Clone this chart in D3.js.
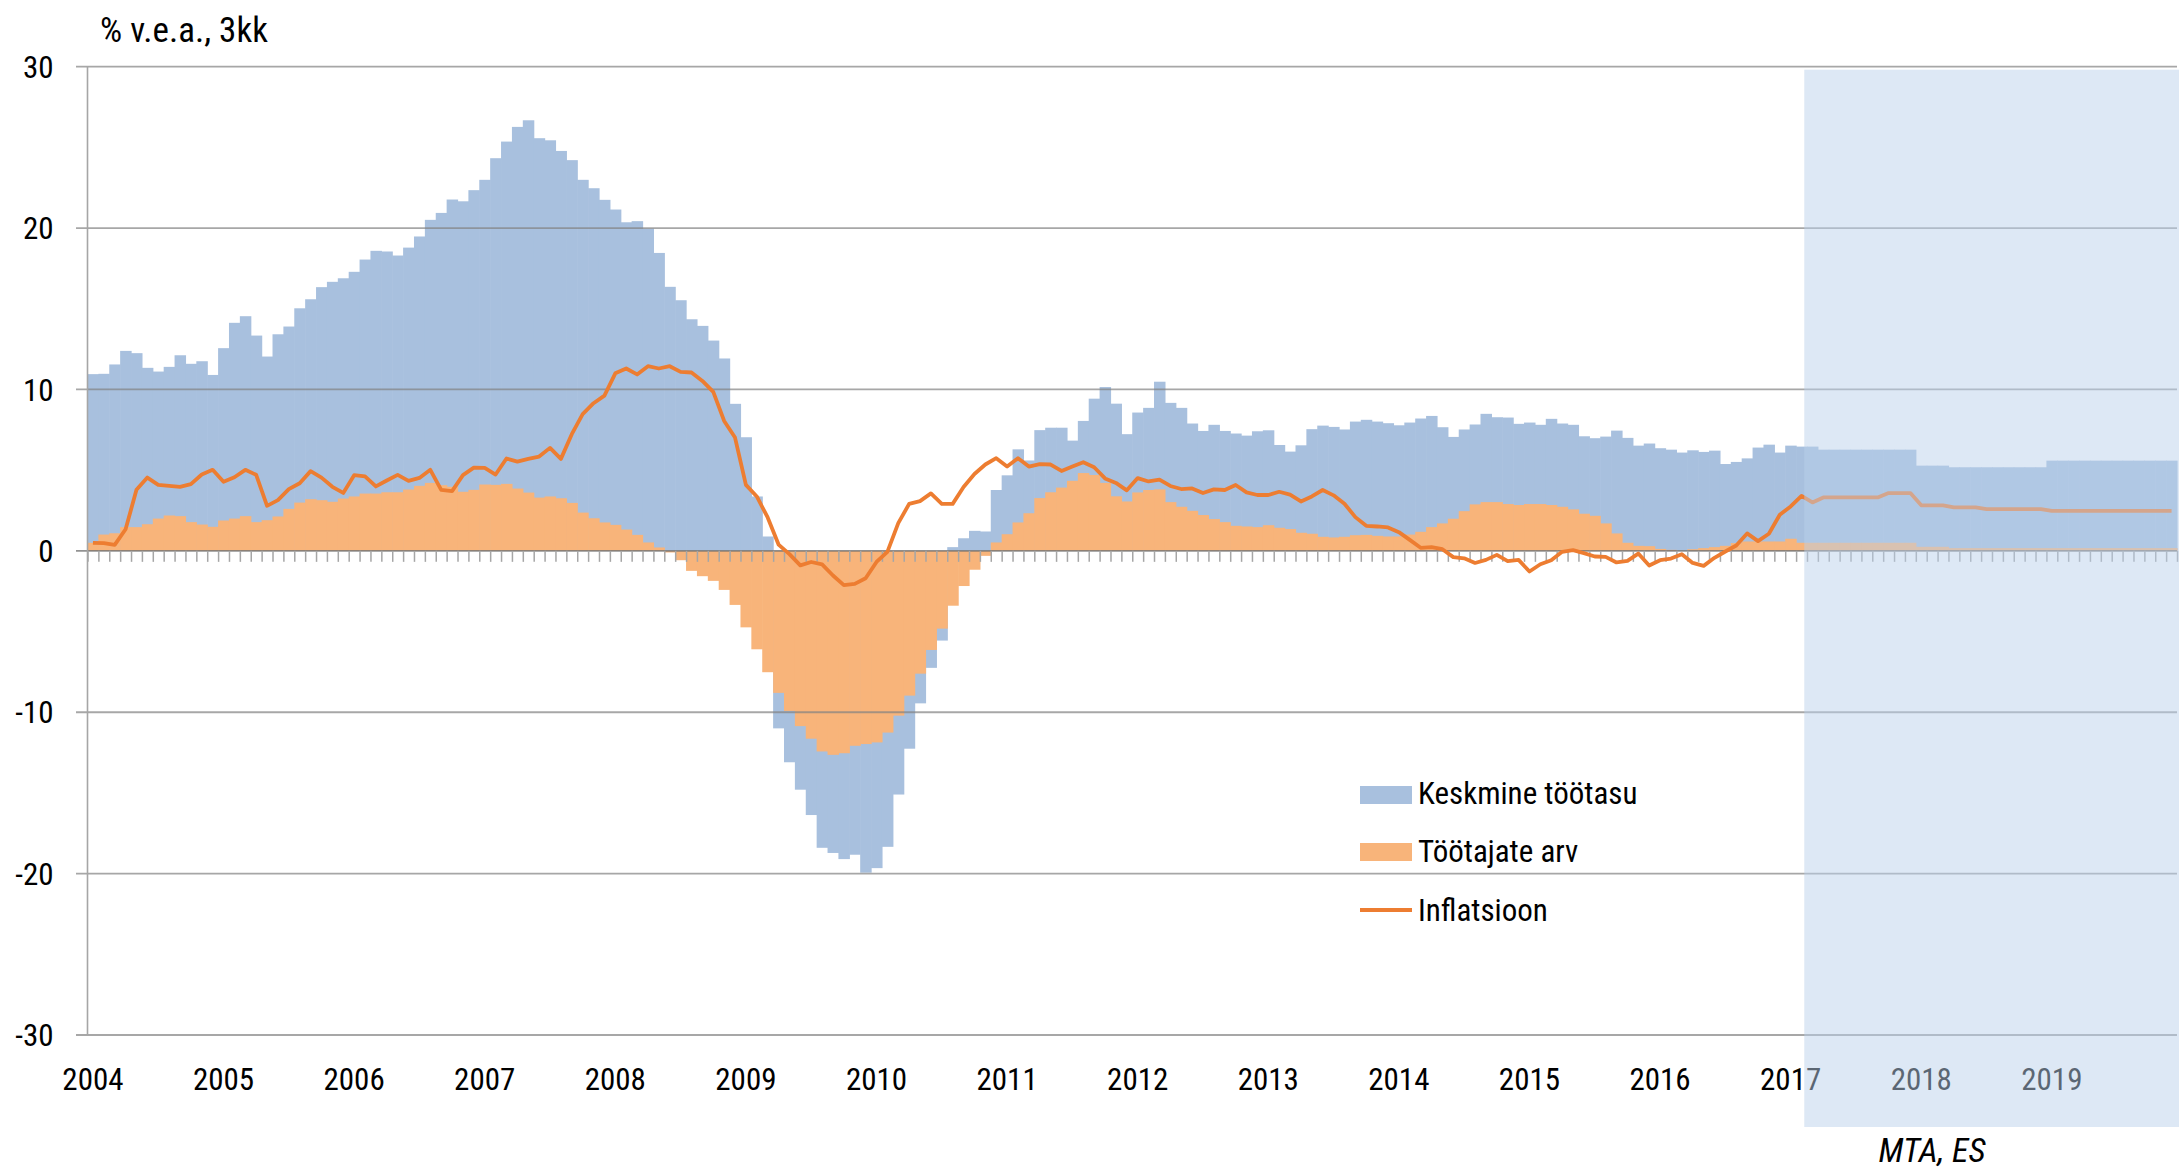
<!DOCTYPE html>
<meta charset="utf-8">

<!-- Load d3.js -->
<script src="https://d3js.org/d3.v7.min.js"></script>

<style>
  body { margin: 0; background: #fff; }
  text {
    font-family: "Roboto Condensed", "Liberation Sans Narrow", "Arial Narrow", "DejaVu Sans Condensed", Roboto, sans-serif;
    font-stretch: condensed;
    fill: #000;
  }
</style>

<!-- Create a div where the graph will take place -->
<div id="chart"></div>

<script>

// year labels (one per 12 months, Jan 2004 .. Dec 2019)
var years = ["2004","2005","2006","2007","2008","2009","2010","2011","2012","2013","2014","2015","2016","2017","2018","2019"];

// Keskmine töötasu, % (monthly, 3-month yoy)
var wage = [
  10.95, 10.97, 11.55, 12.39, 12.25, 11.34, 11.11, 11.4, 12.12, 11.59, 11.75, 10.9,
  12.56, 14.13, 14.54, 13.34, 12.04, 13.42, 13.9, 15.03, 15.59, 16.34, 16.67, 16.89,
  17.29, 18.05, 18.59, 18.55, 18.3, 18.79, 19.48, 20.51, 20.94, 21.77, 21.66, 22.35,
  22.99, 24.33, 25.36, 26.27, 26.68, 25.57, 25.44, 24.78, 24.21, 22.99, 22.47, 21.75,
  21.15, 20.36, 20.43, 19.97, 18.46, 16.36, 15.53, 14.35, 13.94, 13.03, 11.92, 9.11,
  7.04, 3.37, 0.89, -11.0, -13.1, -14.8, -16.37, -18.4, -18.72, -19.1, -18.83, -19.94,
  -19.66, -18.34, -15.1, -12.26, -9.45, -7.25, -5.56, 0.23, 0.78, 1.24, 1.2, 3.77,
  4.68, 6.29, 5.6, 7.48, 7.63, 7.63, 6.83, 8.05, 9.43, 10.15, 9.12, 7.23,
  8.57, 8.86, 10.48, 9.17, 8.86, 7.89, 7.43, 7.81, 7.43, 7.27, 7.14, 7.41,
  7.47, 6.56, 6.15, 6.54, 7.54, 7.76, 7.68, 7.52, 8.01, 8.12, 8.01, 7.91,
  7.78, 7.95, 8.2, 8.36, 7.66, 7.06, 7.52, 7.83, 8.49, 8.28, 8.26, 7.87,
  7.95, 7.81, 8.18, 7.89, 7.81, 7.1, 6.98, 7.08, 7.45, 7.0, 6.52, 6.65,
  6.36, 6.27, 6.09, 6.23, 6.13, 6.21, 5.38, 5.51, 5.73, 6.4, 6.58, 6.09,
  6.52, 6.46, 6.46, 6.27, 6.27, 6.27, 6.27, 6.27, 6.27, 6.27, 6.27, 6.27,
  5.28, 5.28, 5.28, 5.18, 5.18, 5.18, 5.18, 5.18, 5.18, 5.18, 5.18, 5.18,
  5.59, 5.59, 5.59, 5.59, 5.59, 5.59, 5.59, 5.59, 5.59, 5.59, 5.59, 5.59
];

// Töötajate arv, %
var employees = [
  0.5, 1.01, 1.09, 1.47, 1.47, 1.65, 2.0, 2.19, 2.15, 1.78, 1.63, 1.49,
  1.88, 2.0, 2.15, 1.78, 1.9, 2.13, 2.6, 2.99, 3.2, 3.14, 3.04, 3.24,
  3.37, 3.55, 3.55, 3.63, 3.63, 3.8, 4.03, 4.21, 4.07, 3.97, 3.66, 3.78,
  4.11, 4.09, 4.15, 3.86, 3.61, 3.3, 3.37, 3.26, 2.97, 2.37, 2.02, 1.76,
  1.61, 1.32, 0.99, 0.52, 0.21, -0.1, -0.58, -1.24, -1.57, -1.86, -2.42, -3.35,
  -4.74, -6.1, -7.52, -8.8, -9.92, -10.86, -11.64, -12.43, -12.64, -12.54, -12.08, -11.97,
  -11.87, -11.26, -10.21, -8.97, -7.61, -6.14, -4.82, -3.4, -2.18, -1.17, -0.31, 0.52,
  1.03, 1.76, 2.33, 3.27, 3.63, 3.92, 4.34, 4.82, 4.7, 4.21, 3.38, 3.06,
  3.62, 3.77, 3.81, 3.02, 2.73, 2.48, 2.22, 1.97, 1.78, 1.55, 1.51, 1.47,
  1.59, 1.43, 1.35, 1.12, 1.06, 0.87, 0.83, 0.87, 0.97, 0.99, 0.93, 0.89,
  0.89, 1.01, 1.18, 1.47, 1.7, 1.99, 2.46, 2.88, 3.02, 3.02, 2.9, 2.84,
  2.9, 2.9, 2.84, 2.73, 2.57, 2.3, 2.17, 1.7, 1.08, 0.5, 0.31, 0.29,
  0.12, 0.06, 0.0, 0.1, 0.17, 0.23, 0.31, 0.48, 0.58, 0.58, 0.58, 0.58,
  0.75, 0.5, 0.5, 0.5, 0.5, 0.5, 0.5, 0.5, 0.5, 0.5, 0.5, 0.5,
  0.25, 0.25, 0.25, 0.17, 0.17, 0.17, 0.17, 0.17, 0.17, 0.17, 0.17, 0.17,
  0.17, 0.17, 0.17, 0.17, 0.17, 0.17, 0.17, 0.17, 0.17, 0.17, 0.17, 0.17
];

// Inflatsioon, %
var inflation = [
  0.5, 0.48, 0.37, 1.34, 3.78, 4.54, 4.09, 4.03, 3.97, 4.13, 4.73, 5.02,
  4.28, 4.56, 5.02, 4.71, 2.79, 3.14, 3.82, 4.19, 4.94, 4.54, 3.97, 3.59,
  4.69, 4.61, 3.99, 4.36, 4.71, 4.34, 4.52, 5.02, 3.78, 3.7, 4.69, 5.16,
  5.14, 4.73, 5.72, 5.53, 5.7, 5.84, 6.38, 5.7, 7.23, 8.47, 9.15, 9.62,
  11.0, 11.3, 10.93, 11.44, 11.3, 11.44, 11.09, 11.05, 10.53, 9.85, 8.05, 7.02,
  4.09, 3.37, 2.07, 0.39, -0.2, -0.9, -0.69, -0.84, -1.53, -2.12, -2.05, -1.7,
  -0.69, -0.06, 1.72, 2.91, 3.08, 3.56, 2.91, 2.91, 3.96, 4.76, 5.35, 5.74,
  5.22, 5.74, 5.22, 5.37, 5.35, 4.95, 5.22, 5.49, 5.18, 4.49, 4.21, 3.75,
  4.51, 4.3, 4.41, 4.02, 3.83, 3.87, 3.58, 3.81, 3.77, 4.08, 3.62, 3.46,
  3.46, 3.66, 3.48, 3.06, 3.37, 3.77, 3.44, 2.92, 2.09, 1.55, 1.51, 1.45,
  1.16, 0.68, 0.19, 0.23, 0.1, -0.39, -0.46, -0.75, -0.56, -0.25, -0.64, -0.56,
  -1.28, -0.83, -0.58, -0.06, 0.04, -0.14, -0.35, -0.37, -0.72, -0.62, -0.17, -0.91,
  -0.58, -0.48, -0.21, -0.75, -0.93, -0.43, -0.04, 0.33, 1.08, 0.6, 1.06, 2.24,
  2.75, 3.4, 3.0, 3.31, 3.31, 3.31, 3.31, 3.31, 3.31, 3.58, 3.58, 3.58,
  2.82, 2.82, 2.82, 2.69, 2.69, 2.69, 2.59, 2.59, 2.59, 2.59, 2.59, 2.59,
  2.48, 2.48, 2.48, 2.48, 2.48, 2.48, 2.48, 2.48, 2.48, 2.48, 2.48, 2.48
];

var yTicks = [-30, -20, -10, 0, 10, 20, 30];
var seriesNames = ["Keskmine töötasu", "Töötajate arv", "Inflatsioon"];
var forecastFrom = 157;   // month index where the forecast shading starts

var blue = "#a8c0de", orange = "#f8b47a", lineColor = "#ed7d31";

// set the dimensions and margins of the graph
var margin = {top: 66.7, right: 2, bottom: 140, left: 87.5},
  width = 2179 - margin.left - margin.right,
  height = 1175 - margin.top - margin.bottom;

var svgRoot = d3.select("#chart")
  .append("svg")
    .attr("width", 2179)
    .attr("height", 1175);

var svg = svgRoot.append("g")
    .attr("transform", "translate(" + margin.left + "," + margin.top + ")");

var months = d3.range(wage.length);

// X: one band per month
var x = d3.scaleBand()
  .domain(months)
  .range([0, width])
  .padding(0);
var bw = x.bandwidth();

// linear helper for month boundaries (ticks)
var xb = d3.scaleLinear()
  .domain([0, months.length])
  .range([0, width]);

// Y
var y = d3.scaleLinear()
  .domain([-30, 30])
  .range([height, 0]);

// bars: wage first, employees in front
function drawBars(values, color) {
  svg.append("g")
    .selectAll("rect")
    .data(values)
    .enter()
    .append("rect")
      .attr("x", function(d, i) { return x(i); })
      .attr("width", bw + 0.6)
      .attr("y", function(d) { return y(Math.max(0, d)); })
      .attr("height", function(d) { return Math.abs(y(d) - y(0)); })
      .attr("fill", color);
}
drawBars(wage, blue);
drawBars(employees, orange);

// gridlines (on top, semi transparent so they show through bars)
svg.append("g")
  .selectAll("line")
  .data(yTicks)
  .enter()
  .append("line")
    .attr("x1", -11.5)
    .attr("x2", width)
    .attr("y1", function(d) { return y(d); })
    .attr("y2", function(d) { return y(d); })
    .attr("stroke", function(d) { return d === 0 ? "rgba(110,110,110,0.75)" : "rgba(130,130,130,0.7)"; })
    .attr("stroke-width", 1.8);

// vertical axis line
svg.append("line")
  .attr("x1", 0).attr("x2", 0)
  .attr("y1", y(30)).attr("y2", y(-30))
  .attr("stroke", "#a6a6a6")
  .attr("stroke-width", 1.6);

// month ticks below the zero line
var monthAxis = svg.append("g")
  .attr("transform", "translate(0," + y(0) + ")")
  .call(d3.axisBottom(xb).tickValues(d3.range(months.length + 1)).tickSize(11).tickFormat(""));
monthAxis.select(".domain").remove();
monthAxis.selectAll(".tick line").attr("stroke", "#a6a6a6").attr("stroke-width", 1.5);

// inflation line
svg.append("path")
  .datum(inflation)
  .attr("d", d3.line()
    .x(function(d, i) { return x(i) + bw / 2; })
    .y(function(d) { return y(d); }))
  .attr("fill", "none")
  .attr("stroke", lineColor)
  .attr("stroke-width", 3.8)
  .attr("stroke-linejoin", "round");

// Y labels
svg.append("g")
  .selectAll("text")
  .data(yTicks)
  .enter()
  .append("text")
    .attr("x", -34)
    .attr("y", function(d) { return y(d); })
    .attr("dy", "0.36em")
    .attr("text-anchor", "end")
    .style("font-size", "31px")
    .text(function(d) { return d; });

// year labels, centred on January
svg.append("g")
  .selectAll("text")
  .data(years)
  .enter()
  .append("text")
    .attr("x", function(d, j) { return x(j * 12) + bw / 2; })
    .attr("y", y(-30) + 55)
    .attr("text-anchor", "middle")
    .style("font-size", "31px")
    .text(function(d) { return d; });

// unit title
svgRoot.append("text")
  .attr("x", 100)
  .attr("y", 42)
  .style("font-size", "35px")
  .text("% v.e.a., 3kk");

// legend
var legend = svgRoot.append("g").attr("transform", "translate(1360,0)");
legend.append("rect").attr("x", 0).attr("y", 786).attr("width", 52).attr("height", 18).attr("fill", blue);
legend.append("rect").attr("x", 0).attr("y", 843).attr("width", 52).attr("height", 18).attr("fill", orange);
legend.append("line").attr("x1", 0).attr("x2", 52).attr("y1", 910).attr("y2", 910)
  .attr("stroke", lineColor).attr("stroke-width", 3.8);
legend.selectAll(".lbl")
  .data(seriesNames)
  .enter()
  .append("text")
    .attr("class", "lbl")
    .attr("x", 58)
    .attr("y", function(d, i) { return [804, 862, 921][i]; })
    .style("font-size", "31px")
    .text(function(d) { return d; });

// forecast shading (drawn over everything)
svgRoot.append("rect")
  .attr("x", margin.left + x(forecastFrom) + bw * 0.75)
  .attr("y", margin.top + 3)
  .attr("width", 2179 - (margin.left + x(forecastFrom) + bw * 0.75))
  .attr("height", 1127 - (margin.top + 3))
  .attr("fill", "rgb(186,208,235)")
  .attr("fill-opacity", 0.49);

// source
svgRoot.append("text")
  .attr("x", 1932)
  .attr("y", 1162)
  .attr("text-anchor", "middle")
  .style("font-size", "34px")
  .style("font-style", "italic")
  .text("MTA, ES");

</script>
